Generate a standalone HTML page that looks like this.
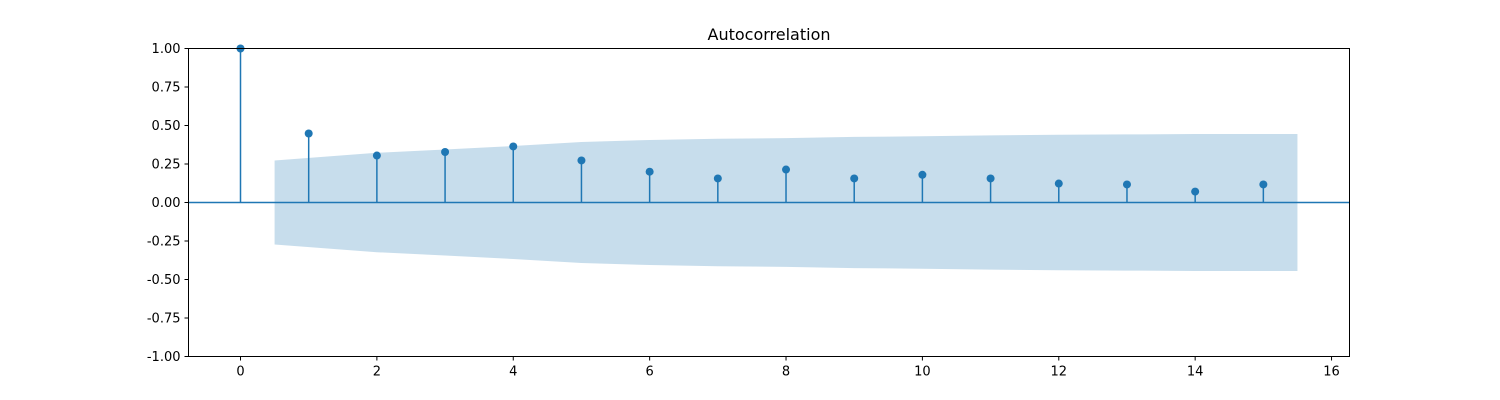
<!DOCTYPE html>
<html><head><meta charset="utf-8"><style>
body{margin:0;background:#fff;}
svg{display:block;font-family:"DejaVu Sans","Liberation Sans",sans-serif;}
</style></head><body>
<svg id="chart" width="1500" height="400">
<text x="769" y="40" text-anchor="middle" font-size="16" fill="#000">Autocorrelation</text>
<g id="band"></g><g id="marks"></g><g id="axes"></g>
</svg>
<script>
const lags=[0,1,2,3,4,5,6,7,8,9,10,11,12,13,14,15];
const acfValues=[1,0.448,0.305,0.328,0.364,0.273,0.2,0.156,0.214,0.156,0.18,0.156,0.123,0.117,0.071,0.117];
const confUpper=[0.273,0.323,0.344,0.367,0.393,0.406,0.414,0.418,0.426,0.430,0.436,0.440,0.442,0.445,0.445];
const xTicks=[0,2,4,6,8,10,12,14,16];
const yTicks=[-1,-0.75,-0.5,-0.25,0,0.25,0.5,0.75,1];
const T=48.5,B=356.5;
const xs=v=>240.5+v*68.19;
const L=188.5,R=1349.5;
const ys=v=>T+(1-v)/2*(B-T);
const NS="http://www.w3.org/2000/svg";
function mk(tag,attrs,parent){const e=document.createElementNS(NS,tag);for(const k in attrs)e.setAttribute(k,attrs[k]);parent.appendChild(e);return e;}
const band=document.getElementById('band'),marks=document.getElementById('marks'),axes=document.getElementById('axes');
const bx=confUpper.map((c,i)=>{let l=i+1;if(i===0)l=0.5;if(i===confUpper.length-1)l=15.5;return l;});
let pts=bx.map((l,i)=>xs(l)+','+ys(confUpper[i]));
pts=pts.concat(bx.slice().reverse().map((l,j)=>xs(l)+','+ys(-confUpper[confUpper.length-1-j])));
const poly=mk('polygon',{points:pts.join(' '),fill:'#1f77b4','fill-opacity':0.25,stroke:'none'},band);


const zl=mk('line',{x1:L,x2:R,y1:ys(0),y2:ys(0),stroke:'#1f77b4','stroke-width':1.5},marks);


lags.forEach((l,i)=>{
  const s=mk('line',{x1:xs(l),x2:xs(l),y1:ys(0),y2:ys(acfValues[i]),stroke:'#1f77b4','stroke-width':1.5},marks);
  
  
  const c=mk('circle',{cx:xs(l),cy:ys(acfValues[i]),r:4,fill:'#1f77b4'},marks);
  
  
});
const fr=mk('rect',{x:L,y:T,width:R-L,height:B-T,fill:'none',stroke:'#000','stroke-width':1},axes);


xTicks.forEach(t=>{
  const x=xs(t);
  const tk=mk('line',{x1:x,x2:x,y1:B,y2:B+4,stroke:'#000'},axes);
  
  
  const tx=mk('text',{x:x,y:B+19,'text-anchor':'middle','font-size':13},axes);
  tx.textContent=t;
  
  
});
yTicks.forEach(t=>{
  const y=ys(t);
  const tk=mk('line',{x1:L-4,x2:L,y1:y,y2:y,stroke:'#000'},axes);
  
  
  const tx=mk('text',{x:L-8,y:y+4.5,'text-anchor':'end','font-size':13},axes);
  tx.textContent=t.toFixed(2);
  
  
});
</script>
</body></html>
